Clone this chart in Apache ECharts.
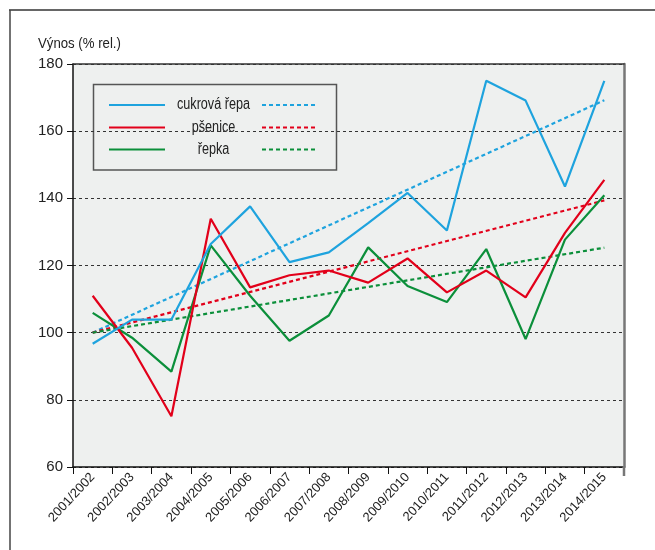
<!DOCTYPE html>
<html>
<head>
<meta charset="utf-8">
<script src="https://cdn.jsdelivr.net/npm/echarts@6/dist/echarts.min.js"></script>
<style>
  html, body { margin: 0; padding: 0; background: #fff; }
  #main { width: 655px; height: 550px; }
</style>
</head>
<body>
<div id="main"></div>
<script>
var roky = ['2001/2002', '2002/2003', '2003/2004', '2004/2005', '2005/2006', '2006/2007', '2007/2008',
  '2008/2009', '2009/2010', '2010/2011', '2011/2012', '2012/2013', '2013/2014', '2014/2015'];

var cukrovaRepa = [96.7, 103.9, 103.9, 126.4, 137.6, 121.0, 123.9, 132.6, 141.6, 130.4, 175.0, 169.1, 143.5, 175.0];
var psenice = [111.0, 95.5, 75.1, 133.9, 113.5, 117.1, 118.5, 114.9, 122.1, 112.0, 118.5, 110.5, 129.7, 145.5];
var repka = [105.9, 98.5, 88.4, 126.0, 111.0, 97.6, 105.1, 125.4, 113.9, 109.1, 124.9, 98.1, 127.7, 140.9];

// trendy - jen zacatek a konec, mezi tim se spoji
var trendCukrova = [100, null, null, null, null, null, null, null, null, null, null, null, null, 169.2];
var trendPsenice = [100, null, null, null, null, null, null, null, null, null, null, null, null, 139.4];
var trendRepka = [100, null, null, null, null, null, null, null, null, null, null, null, null, 125.3];

var nazvy = ['cukrová řepa', 'pšenice', 'řepka'];
var barvy = ['#1ea3de', '#e2001a', '#0b8f3a'];
var font = '"Liberation Sans", Arial, sans-serif';

function legendaRadek(i, y) {
  return [
    { type: 'line', shape: { x1: 109, y1: y, x2: 165, y2: y }, style: { stroke: barvy[i], lineWidth: 2.2 } },
    { type: 'line', shape: { x1: 262, y1: y, x2: 316, y2: y }, style: { stroke: barvy[i], lineWidth: 2.2, lineDash: [4, 3] } },
    { type: 'text', x: 213.5, y: y, scaleX: 0.79,
      style: { text: nazvy[i], font: '16px ' + font, fill: '#222', align: 'center', verticalAlign: 'middle' } }
  ];
}

var chart = echarts.init(document.getElementById('main'));
var option = {
  animation: false,
  backgroundColor: '#fff',
  grid: {
    left: 73, right: 31, top: 64, bottom: 83,
    show: true, backgroundColor: '#eef0ef', borderWidth: 0
  },
  xAxis: [{
    type: 'category',
    data: roky,
    boundaryGap: true,
    axisLine: { lineStyle: { color: '#111', width: 1.5 } },
    axisTick: { show: true, length: 7, lineStyle: { color: '#111' } },
    axisLabel: { rotate: 47, margin: 8, fontFamily: font, fontSize: 13, color: '#222', interval: 0 },
    splitLine: { show: false }
  }, {
    type: 'category',
    data: roky,
    position: 'top',
    axisLine: { lineStyle: { color: '#333', width: 1.5 } },
    axisTick: { show: false },
    axisLabel: { show: false }
  }],
  yAxis: [{
    type: 'value',
    min: 60, max: 180, interval: 20,
    axisLine: { show: true, lineStyle: { color: '#111', width: 1.5 } },
    axisTick: { show: true, length: 6, lineStyle: { color: '#111' } },
    axisLabel: { margin: 10, fontFamily: font, fontSize: 15, color: '#222' },
    splitLine: { show: true, lineStyle: { color: '#333', type: [3, 3], width: 1 } }
  }, {
    type: 'value',
    min: 60, max: 180, interval: 20,
    position: 'right',
    axisLine: { show: true, lineStyle: { color: '#777', width: 2.5 } },
    axisTick: { show: false },
    axisLabel: { show: false },
    splitLine: { show: false }
  }],
  series: [
    { name: nazvy[0] + ' trend', type: 'line', data: trendCukrova, connectNulls: true, symbol: 'none',
      lineStyle: { color: barvy[0], width: 2.2, type: [4, 3] } },
    { name: nazvy[1] + ' trend', type: 'line', data: trendPsenice, connectNulls: true, symbol: 'none',
      lineStyle: { color: barvy[1], width: 2.2, type: [4, 3] } },
    { name: nazvy[2] + ' trend', type: 'line', data: trendRepka, connectNulls: true, symbol: 'none',
      lineStyle: { color: barvy[2], width: 2.2, type: [4, 3] } },
    { name: nazvy[2], type: 'line', data: repka, symbol: 'none', lineStyle: { color: barvy[2], width: 2.2 } },
    { name: nazvy[1], type: 'line', data: psenice, symbol: 'none', lineStyle: { color: barvy[1], width: 2.2 } },
    { name: nazvy[0], type: 'line', data: cukrovaRepa, symbol: 'none', lineStyle: { color: barvy[0], width: 2.2 } }
  ],
  graphic: [
    // nazev osy y
    { type: 'text', x: 38, y: 44, scaleX: 0.88, z: 100,
      style: { text: 'Výnos (% rel.)', font: '15px ' + font, fill: '#222', align: 'left', verticalAlign: 'middle' } },
    // ramecek kolem celeho obrazku
    { type: 'line', z: 100, shape: { x1: 9, y1: 10, x2: 655, y2: 10 }, style: { stroke: '#666', lineWidth: 2 } },
    { type: 'line', z: 100, shape: { x1: 10, y1: 10, x2: 10, y2: 550 }, style: { stroke: '#444', lineWidth: 1.5 } },
    // prava hrana grafu pokracuje pod osu
    { type: 'line', z: 100, shape: { x1: 624, y1: 466, x2: 624, y2: 476 }, style: { stroke: '#777', lineWidth: 2.5 } },
    // legenda
    {
      type: 'group', z: 100,
      children: [
        { type: 'rect', shape: { x: 93.5, y: 84.5, width: 243, height: 85.5 },
          style: { fill: '#eef0ef', stroke: '#555', lineWidth: 1.5 } }
      ].concat(legendaRadek(0, 105), legendaRadek(1, 127.5), legendaRadek(2, 149.5))
    }
  ]
};
chart.setOption(option);
</script>
</body>
</html>
